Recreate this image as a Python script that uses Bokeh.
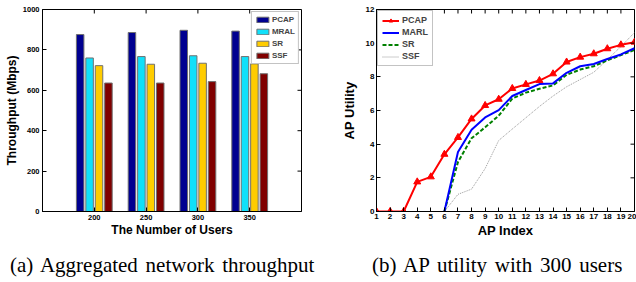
import math
from bokeh.plotting import figure
from bokeh.models import (Range1d, FixedTicker, Legend, LegendItem, Div,
                          ColumnDataSource)
from bokeh.layouts import row, column
from bokeh.embed import file_html
from bokeh.resources import INLINE
from bokeh.transform import dodge

# ---------------- data: (a) aggregated throughput ----------------
users = ["200", "250", "300", "350"]
pcap_tp = [876, 886, 897, 893]
mral_tp = [760, 767, 771, 767]
sr_tp = [722, 729, 734, 731]
ssf_tp = [636, 636, 643, 682]
tp_ticks = [0, 200, 400, 600, 800, 1000]

# ---------------- data: (b) AP utility with 300 users ----------------
ap_index = [1, 2, 3, 4, 5, 6, 7, 8, 9, 10, 11, 12, 13, 14, 15, 16, 17, 18, 19, 20]
pcap_u = [0, 0, 0, 1.76, 2.06, 3.40, 4.40, 5.50, 6.30, 6.67, 7.31, 7.55, 7.78,
          8.18, 8.88, 9.17, 9.37, 9.67, 9.90, 10.06]
other_x = [6, 7, 8, 9, 10, 11, 12, 13, 14, 15, 16, 17, 18, 19, 20]
marl_u = [0, 3.53, 4.86, 5.59, 6.02, 6.86, 7.22, 7.57, 7.61, 8.24, 8.63, 8.76,
          9.06, 9.33, 9.70]
sr_u = [0, 2.94, 4.35, 5.00, 5.69, 6.71, 7.06, 7.29, 7.49, 8.12, 8.43, 8.63,
        8.98, 9.29, 9.60]
ssf_u = [0, 1.02, 1.33, 2.55, 4.22, 4.90, 5.57, 6.24, 6.86, 7.41, 7.84, 8.27,
         9.02, 9.80, 10.63]
util_ticks = [0, 2, 4, 6, 8, 10, 12]

cap_a = "(a) Aggregated network throughput"
cap_b = "(b) AP utility with 300 users"

FONT = "Liberation Sans"


def style_axis(ax, size, label_size, std=2, lab_std=1):
    ax.axis_label_text_font = FONT
    ax.axis_label_text_font_style = "bold"
    ax.axis_label_text_font_size = label_size
    ax.axis_label_text_color = "black"
    ax.axis_label_standoff = lab_std
    ax.major_label_text_font = FONT
    ax.major_label_text_font_style = "bold"
    ax.major_label_text_font_size = size
    ax.major_label_text_color = "black"
    ax.major_label_standoff = std
    ax.major_tick_in = 4
    ax.major_tick_out = 0
    ax.minor_tick_in = 0
    ax.minor_tick_out = 0
    ax.axis_line_color = "black"
    ax.major_tick_line_color = "black"


def box_ticks(p, xticks, yticks, xmax, ymax):
    # inward tick marks on the top and right frame edges (MATLAB-style box)
    p.ray(x=xticks, y=[ymax] * len(xticks), length=4, length_units="screen",
          angle=-math.pi / 2, line_color="black", line_width=1)
    p.ray(x=[xmax] * len(yticks), y=yticks, length=4, length_units="screen",
          angle=math.pi, line_color="black", line_width=1)


# ---------------- figure (a) ----------------
xpos = [i + 1 for i in range(len(users))]
src = ColumnDataSource(dict(x=xpos, pcap=pcap_tp, mral=mral_tp, sr=sr_tp, ssf=ssf_tp))

p1 = figure(width=320, height=240, x_range=Range1d(0, 5), y_range=Range1d(0, 1000),
            output_backend="svg", toolbar_location=None,
            min_border_left=42, min_border_right=19, min_border_top=9,
            min_border_bottom=27)
p1.xgrid.visible = False
p1.ygrid.visible = False
p1.outline_line_color = "black"
p1.background_fill_color = "white"
p1.border_fill_color = "white"

series = [("PCAP", "pcap", "#000090", -0.273),
          ("MRAL", "mral", "#10E0FA", -0.091),
          ("SR", "sr", "#FFCC00", 0.091),
          ("SSF", "ssf", "#800000", 0.273)]
items1 = []
for name, col, color, off in series:
    r = p1.vbar(x=dodge("x", off), top=col, width=0.145, source=src,
                fill_color=color, line_color="#707070", line_width=1)
    items1.append(LegendItem(label=name, renderers=[r]))

p1.xaxis.ticker = FixedTicker(ticks=xpos)
p1.xaxis.major_label_overrides = {x: u for x, u in zip(xpos, users)}
p1.yaxis.ticker = FixedTicker(ticks=tp_ticks)
p1.xaxis.axis_label = "The Number of Users"
p1.yaxis.axis_label = "Throughput (Mbps)"
style_axis(p1.xaxis[0], "7.5px", "12px", std=3, lab_std=0)
style_axis(p1.yaxis[0], "7.5px", "12px", std=3, lab_std=1)
box_ticks(p1, xpos, tp_ticks, 5, 1000)

leg1 = Legend(items=items1, location="top_right")
leg1.label_text_font = FONT
leg1.label_text_font_style = "bold"
leg1.label_text_font_size = "8px"
leg1.glyph_width = 15
leg1.glyph_height = 7
leg1.label_height = 8
leg1.label_standoff = 2
leg1.spacing = 3
leg1.padding = 3
leg1.margin = 2
leg1.border_line_color = "#888888"
leg1.background_fill_alpha = 1
p1.add_layout(leg1)

# ---------------- figure (b) ----------------
p2 = figure(width=316, height=240, x_range=Range1d(1, 20), y_range=Range1d(0, 12),
            output_backend="svg", toolbar_location=None,
            min_border_left=56, min_border_right=2, min_border_top=9,
            min_border_bottom=27)
p2.xgrid.visible = False
p2.ygrid.visible = False
p2.outline_line_color = "black"
p2.background_fill_color = "white"
p2.border_fill_color = "white"

r_ssf = p2.line(other_x, ssf_u, line_color="#999999", line_width=1, line_dash="1 1")
r_sr = p2.line(other_x, sr_u, line_color="#008000", line_width=2, line_dash="4 2")
r_marl = p2.line(other_x, marl_u, line_color="#0000FF", line_width=2)
r_pcap = p2.line(ap_index, pcap_u, line_color="#FF0000", line_width=2)
r_pcap_m = p2.scatter(ap_index, pcap_u, marker="triangle", size=7,
                      fill_color="#FF0000", line_color="#FF0000")

p2.xaxis.ticker = FixedTicker(ticks=ap_index)
p2.yaxis.ticker = FixedTicker(ticks=util_ticks)
p2.xaxis.axis_label = "AP Index"
p2.yaxis.axis_label = "AP Utility"
style_axis(p2.xaxis[0], "8px", "13px", std=2, lab_std=1)
style_axis(p2.yaxis[0], "8px", "13px", std=2, lab_std=6)
box_ticks(p2, ap_index, util_ticks, 20, 12)

leg2 = Legend(items=[LegendItem(label="PCAP", renderers=[r_pcap, r_pcap_m]),
                     LegendItem(label="MARL", renderers=[r_marl]),
                     LegendItem(label="SR", renderers=[r_sr]),
                     LegendItem(label="SSF", renderers=[r_ssf])],
              location="top_left")
leg2.label_text_font = FONT
leg2.label_text_font_style = "bold"
leg2.label_text_font_size = "9px"
leg2.glyph_width = 17
leg2.glyph_height = 9
leg2.label_height = 9
leg2.label_standoff = 3
leg2.spacing = 2
leg2.padding = 4
leg2.margin = 1
leg2.border_line_color = "#888888"
leg2.background_fill_alpha = 1
p2.add_layout(leg2)


# ---------------- captions ----------------
def caption(txt, left, w):
    html = ('<div style="font-family:\'Liberation Serif\',serif;font-size:21px;'
            'line-height:21px;padding-top:15px;padding-left:%dpx;word-spacing:2.5px;'
            'white-space:nowrap;color:black;">%s</div>' % (left, txt))
    return Div(text=html, width=w, height=42, margin=(0, 0, 0, 0))


d1 = caption(cap_a, 10, 320)
d2 = caption(cap_b, 52, 316)

layout = column(row(p1, p2), row(d1, d2))
open("out.html", "w").write(file_html(layout, INLINE))
